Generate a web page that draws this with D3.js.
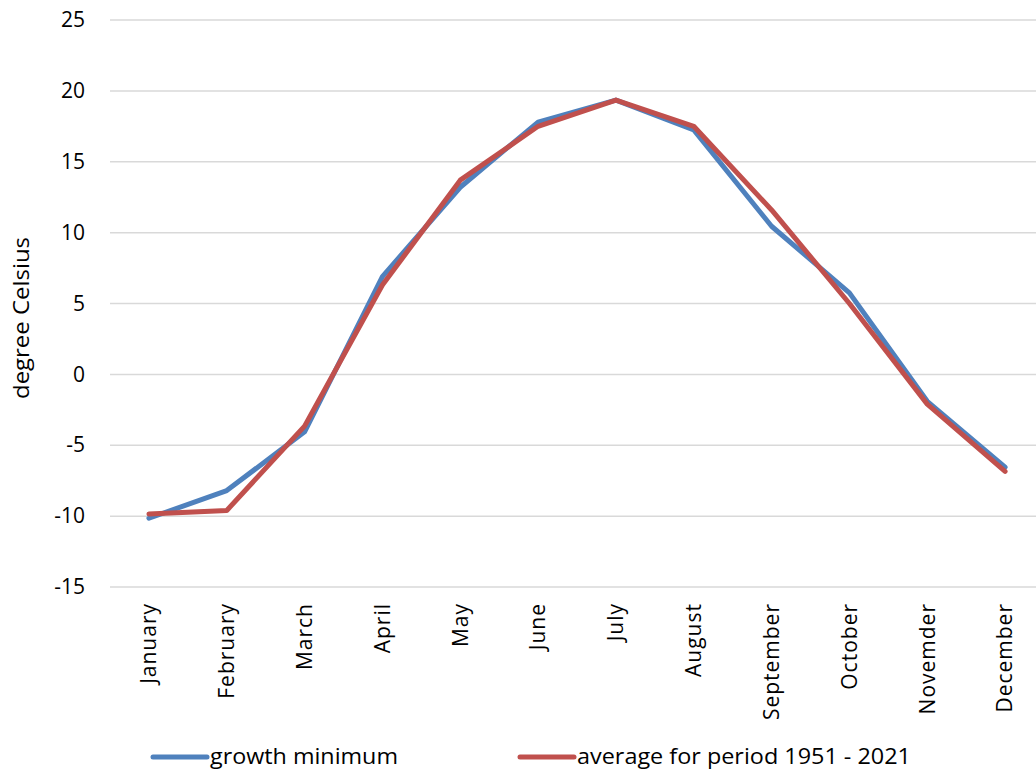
<!DOCTYPE html>
<html>
<head>
<meta charset="utf-8">
<script src="https://cdn.jsdelivr.net/npm/d3@7"></script>
<style>
  html, body { margin: 0; padding: 0; background: #fff; }
  svg { display: block; }
  text { font-family: "Open Sans", "Noto Sans", sans-serif; fill: #000; }
</style>
</head>
<body>
<svg id="chart" width="1036" height="771"></svg>
<script>
// Monthly temperatures, degree Celsius
const months = ["January", "February", "March", "April", "May", "June",
                "July", "August", "September", "October", "Novemder", "December"];
const growthMinimum = [-10.15, -8.2, -4.05, 6.9, 13.2, 17.8, 19.35, 17.25, 10.45, 5.75, -1.9, -6.55];
const average19512021 = [-9.85, -9.6, -3.65, 6.3, 13.7, 17.5, 19.35, 17.5, 11.6, 5.0, -2.1, -6.85];
const yTicks = [-15, -10, -5, 0, 5, 10, 15, 20, 25];
const seriesNames = ["growth minimum", "average for period 1951 - 2021"];
const seriesColors = ["#4F81BD", "#C0504D"];

const svg = d3.select("#chart");
const plot = { left: 110, right: 1044, top: 20, bottom: 587 };

const x = d3.scalePoint().domain(months)
  .range([plot.left, plot.right]).padding(0.5);
const y = d3.scaleLinear().domain([-15, 25]).range([plot.bottom, plot.top]);

// horizontal gridlines
svg.append("g").selectAll("line").data(yTicks).join("line")
  .attr("x1", plot.left).attr("x2", 1036)
  .attr("y1", d => y(d)).attr("y2", d => y(d))
  .attr("stroke", "#d9d9d9").attr("stroke-width", 1.5);

// y axis labels (plain hyphen for negatives)
const yAxis = svg.append("g")
  .attr("transform", `translate(${plot.left},0)`)
  .call(d3.axisLeft(y).tickValues(yTicks).tickSize(0).tickPadding(25).tickFormat(d => String(d)));
yAxis.select(".domain").remove();
yAxis.selectAll("text")
  .style("font-family", '"Open Sans", "Noto Sans", sans-serif')
  .style("font-size", "21px").attr("fill", "#000");

// y axis title
svg.append("text")
  .attr("transform", `translate(29,318) rotate(-90)`)
  .attr("text-anchor", "middle")
  .attr("textLength", 162)
  .attr("lengthAdjust", "spacingAndGlyphs")
  .style("font-size", "21px")
  .text("degree Celsius");

// x axis labels, rotated
svg.append("g").selectAll("text").data(months).join("text")
  .attr("transform", d => `translate(${x(d)},${plot.bottom + 16}) rotate(-90)`)
  .attr("text-anchor", "end")
  .attr("dy", "0.35em")
  .style("font-size", "21px")
  .style("letter-spacing", "1px")
  .text(d => d);

// series lines
const line = d3.line()
  .x((d, i) => x(months[i]))
  .y(d => y(d));

[growthMinimum, average19512021].forEach((vals, k) => {
  svg.append("path")
    .datum(vals)
    .attr("d", line)
    .attr("fill", "none")
    .attr("stroke", seriesColors[k])
    .attr("stroke-width", 5)
    .attr("stroke-linejoin", "round")
    .attr("stroke-linecap", "round");
});

// legend
const legendItems = [
  { x: 153, len: 188 },
  { x: 520, len: 334 }
];
const lg = svg.append("g");
seriesNames.forEach((name, k) => {
  const item = legendItems[k];
  lg.append("line")
    .attr("x1", item.x).attr("x2", item.x + 54)
    .attr("y1", 757).attr("y2", 757)
    .attr("stroke", seriesColors[k]).attr("stroke-width", 5)
    .attr("stroke-linecap", "round");
  lg.append("text")
    .attr("x", item.x + 57).attr("y", 757)
    .attr("dy", "0.35em")
    .attr("textLength", item.len)
    .attr("lengthAdjust", "spacingAndGlyphs")
    .style("font-size", "21px")
    .text(name);
});
</script>
</body>
</html>
